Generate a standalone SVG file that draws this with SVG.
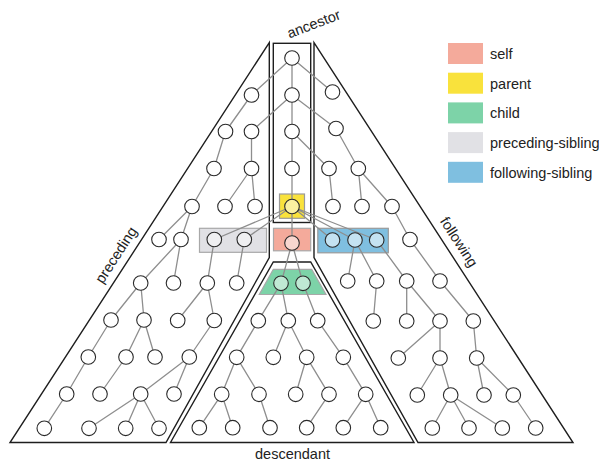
<svg xmlns="http://www.w3.org/2000/svg" width="599" height="465" viewBox="0 0 599 465">
<style>
.reg{fill:none;stroke:#1e1e1e;stroke-width:1.4;stroke-linejoin:miter}
.e{stroke:#8e8e8e;stroke-width:1.3;fill:none}
.n{fill:#fff;stroke:#2a2a2a;stroke-width:1.1}
.t{font-family:"Liberation Sans",Arial,sans-serif;font-size:14.5px;fill:#222}
</style>
<rect width="599" height="465" fill="#fff"/>
<g id="regions">
<path id="preceding-region" class="reg" d="M269.3,42.5 L269.3,257.5 L166,442.5 L10,442.5 Z"/>
<path id="following-region" class="reg" d="M314,42.5 L314,257.5 L418,442.5 L573,442.5 Z"/>
<rect id="ancestor-region" class="reg" x="273.3" y="43.3" width="37.4" height="179.2"/>
<path id="descendant-region" class="reg" d="M273.3,262 L310.7,262 L414,442.5 L170.5,442.5 Z"/>
</g>
<g id="boxes">
<rect id="parent-box" x="279.5" y="194" width="25" height="24.3" fill="#f9e23c" stroke="#9a9a9a" stroke-width="1.2"/>
<rect id="self-box" x="273.5" y="228.3" width="37.2" height="22.5" fill="#f4aa9b" stroke="#a8a8a8" stroke-width="1.2"/>
<rect id="psib-box" x="199.5" y="228.3" width="67" height="24" fill="#e1e1e5" stroke="#a8a8a8" stroke-width="1.2"/>
<rect id="fsib-box" x="317.8" y="228.3" width="70.5" height="24.5" fill="#7fbfe0" stroke="#9a9a9a" stroke-width="1.2"/>
<polygon id="child-box" points="273.3,269.3 311.7,269.3 326,294.5 259.3,294.5" fill="#7dd3a8" stroke="#a8a8a8" stroke-width="1.2"/>
</g>
<g id="connectors">
<path class="e" d="M292,58L292,95 M292,58L251.5,95 M292,58L332.5,92
M292,95L292,131.5 M292,95L251.5,131.5 M292,95L336,128.5
M251.5,95L225.5,131.5
M292,131.5L292,168.5 M292,131.5L329,168.5
M225.5,131.5L214,168.5 M251.5,131.5L251.5,168.5 M336,128.5L358.3,168.5
M292,168.5L292,206.5
M214,168.5L192,206.5
M251.5,168.5L225,206.5 M251.5,168.5L255,206.5
M329,168.5L333,206.5
M358.3,168.5L362,206.5 M358.3,168.5L392,206.5
M292,206.5L292,243 M292,206.5L214.3,239.5 M292,206.5L244.3,239.5 M292,206.5L332.5,240 M292,206.5L355,240 M292,206.5L376.7,240
M192,206.5L159,239.5 M192,206.5L181,239.5
M392,206.5L410,239.5
M181,239.5L140.7,283 M181,239.5L173.5,283
M214.3,239.5L207.3,283 M244.3,239.5L236.7,283
M292,243L281,283.3 M292,243L303,283.3
M355,240L347.7,281 M355,240L376.7,281
M376.7,240L406.7,281
M410,239.5L440,281
M140.7,283L111,320 M140.7,283L144,320
M207.3,283L177.7,320.5 M207.3,283L214.3,320.5
M281,283.3L258.3,320.7 M281,283.3L288.3,320.7
M303,283.3L317.7,320.7
M376.7,281L373.3,321
M406.7,281L406.7,321 M406.7,281L440,321
M440,281L473.3,321
M111,320L88.3,357
M144,320L126,357 M144,320L155,357
M214.3,320.5L189.3,357
M258.3,320.7L236.7,357.3
M288.3,320.7L273.3,357.3 M288.3,320.7L306.7,357.3
M317.7,320.7L343.3,357.3
M440,321L398.3,358 M440,321L440,358
M473.3,321L476.7,358
M88.3,357L66.7,394
M126,357L100,394
M189.3,357L140.7,394 M189.3,357L174,394
M236.7,357.3L221.7,394.3 M236.7,357.3L259,394.3
M306.7,357.3L295.7,394.3 M306.7,357.3L329,394.3
M343.3,357.3L365.7,394.3
M440,358L417.3,395 M440,358L450.7,395
M476.7,358L484,395 M476.7,358L513.3,395
M66.7,394L44.3,428.3
M140.7,394L89,428.3 M140.7,394L125.7,428.3 M140.7,394L159,428.3
M221.7,394.3L199.3,427.7 M221.7,394.3L232.7,427.7
M259,394.3L270,427.7
M329,394.3L306.7,427.7
M365.7,394.3L343.3,427.7 M365.7,394.3L380.7,427.7
M450.7,395L432.3,428 M450.7,395L469,428 M450.7,395L502.3,428
M513.3,395L535.7,428"/>
</g>
<g id="nodes">
<g id="ancestor-nodes">
<circle class="n" cx="292" cy="58" r="7.3"/>
<circle class="n" cx="292" cy="95" r="7.3"/>
<circle class="n" cx="292" cy="131.5" r="7.3"/>
<circle class="n" cx="292" cy="168.5" r="7.3"/>
</g>
<g id="parent-node"><circle cx="292" cy="206.5" r="7.3" fill="#faf1a0" stroke="#2a2a2a" stroke-width="1.1"/></g>
<g id="self-node"><circle cx="292" cy="243" r="7.3" fill="#f8d6cf" stroke="#2a2a2a" stroke-width="1.1"/></g>
<g id="preceding-sibling-nodes">
<circle cx="214.3" cy="239.5" r="7.3" fill="#efeff1" stroke="#2a2a2a" stroke-width="1.1"/>
<circle cx="244.3" cy="239.5" r="7.3" fill="#efeff1" stroke="#2a2a2a" stroke-width="1.1"/>
</g>
<g id="following-sibling-nodes">
<circle cx="332.5" cy="240" r="7.3" fill="#c4e2f1" stroke="#2a2a2a" stroke-width="1.1"/>
<circle cx="355" cy="240" r="7.3" fill="#c4e2f1" stroke="#2a2a2a" stroke-width="1.1"/>
<circle cx="376.7" cy="240" r="7.3" fill="#c4e2f1" stroke="#2a2a2a" stroke-width="1.1"/>
</g>
<g id="child-nodes">
<circle cx="281" cy="283.3" r="7.3" fill="#bfe9d4" stroke="#2a2a2a" stroke-width="1.1"/>
<circle cx="303" cy="283.3" r="7.3" fill="#bfe9d4" stroke="#2a2a2a" stroke-width="1.1"/>
</g>
<g id="preceding-nodes">
<circle class="n" cx="251.5" cy="95" r="7.3"/>
<circle class="n" cx="225.5" cy="131.5" r="7.3"/>
<circle class="n" cx="251.5" cy="131.5" r="7.3"/>
<circle class="n" cx="214" cy="168.5" r="7.3"/>
<circle class="n" cx="251.5" cy="168.5" r="7.3"/>
<circle class="n" cx="192" cy="206.5" r="7.3"/>
<circle class="n" cx="225" cy="206.5" r="7.3"/>
<circle class="n" cx="255" cy="206.5" r="7.3"/>
<circle class="n" cx="159" cy="239.5" r="7.3"/>
<circle class="n" cx="181" cy="239.5" r="7.3"/>
<circle class="n" cx="140.7" cy="283" r="7.3"/>
<circle class="n" cx="173.5" cy="283" r="7.3"/>
<circle class="n" cx="207.3" cy="283" r="7.3"/>
<circle class="n" cx="236.7" cy="283" r="7.3"/>
<circle class="n" cx="111" cy="320" r="7.3"/>
<circle class="n" cx="144" cy="320" r="7.3"/>
<circle class="n" cx="177.7" cy="320.5" r="7.3"/>
<circle class="n" cx="214.3" cy="320.5" r="7.3"/>
<circle class="n" cx="88.3" cy="357" r="7.3"/>
<circle class="n" cx="126" cy="357" r="7.3"/>
<circle class="n" cx="155" cy="357" r="7.3"/>
<circle class="n" cx="189.3" cy="357" r="7.3"/>
<circle class="n" cx="66.7" cy="394" r="7.3"/>
<circle class="n" cx="100" cy="394" r="7.3"/>
<circle class="n" cx="140.7" cy="394" r="7.3"/>
<circle class="n" cx="174" cy="394" r="7.3"/>
<circle class="n" cx="44.3" cy="428.3" r="7.3"/>
<circle class="n" cx="89" cy="428.3" r="7.3"/>
<circle class="n" cx="125.7" cy="428.3" r="7.3"/>
<circle class="n" cx="159" cy="428.3" r="7.3"/>
</g>
<g id="following-nodes">
<circle class="n" cx="332.5" cy="92" r="7.3"/>
<circle class="n" cx="336" cy="128.5" r="7.3"/>
<circle class="n" cx="329" cy="168.5" r="7.3"/>
<circle class="n" cx="358.3" cy="168.5" r="7.3"/>
<circle class="n" cx="333" cy="206.5" r="7.3"/>
<circle class="n" cx="362" cy="206.5" r="7.3"/>
<circle class="n" cx="392" cy="206.5" r="7.3"/>
<circle class="n" cx="410" cy="239.5" r="7.3"/>
<circle class="n" cx="347.7" cy="281" r="7.3"/>
<circle class="n" cx="376.7" cy="281" r="7.3"/>
<circle class="n" cx="406.7" cy="281" r="7.3"/>
<circle class="n" cx="440" cy="281" r="7.3"/>
<circle class="n" cx="373.3" cy="321" r="7.3"/>
<circle class="n" cx="406.7" cy="321" r="7.3"/>
<circle class="n" cx="440" cy="321" r="7.3"/>
<circle class="n" cx="473.3" cy="321" r="7.3"/>
<circle class="n" cx="398.3" cy="358" r="7.3"/>
<circle class="n" cx="440" cy="358" r="7.3"/>
<circle class="n" cx="476.7" cy="358" r="7.3"/>
<circle class="n" cx="417.3" cy="395" r="7.3"/>
<circle class="n" cx="450.7" cy="395" r="7.3"/>
<circle class="n" cx="484" cy="395" r="7.3"/>
<circle class="n" cx="513.3" cy="395" r="7.3"/>
<circle class="n" cx="432.3" cy="428" r="7.3"/>
<circle class="n" cx="469" cy="428" r="7.3"/>
<circle class="n" cx="502.3" cy="428" r="7.3"/>
<circle class="n" cx="535.7" cy="428" r="7.3"/>
</g>
<g id="descendant-nodes">
<circle class="n" cx="258.3" cy="320.7" r="7.3"/>
<circle class="n" cx="288.3" cy="320.7" r="7.3"/>
<circle class="n" cx="317.7" cy="320.7" r="7.3"/>
<circle class="n" cx="236.7" cy="357.3" r="7.3"/>
<circle class="n" cx="273.3" cy="357.3" r="7.3"/>
<circle class="n" cx="306.7" cy="357.3" r="7.3"/>
<circle class="n" cx="343.3" cy="357.3" r="7.3"/>
<circle class="n" cx="221.7" cy="394.3" r="7.3"/>
<circle class="n" cx="259" cy="394.3" r="7.3"/>
<circle class="n" cx="295.7" cy="394.3" r="7.3"/>
<circle class="n" cx="329" cy="394.3" r="7.3"/>
<circle class="n" cx="365.7" cy="394.3" r="7.3"/>
<circle class="n" cx="199.3" cy="427.7" r="7.3"/>
<circle class="n" cx="232.7" cy="427.7" r="7.3"/>
<circle class="n" cx="270" cy="427.7" r="7.3"/>
<circle class="n" cx="306.7" cy="427.7" r="7.3"/>
<circle class="n" cx="343.3" cy="427.7" r="7.3"/>
<circle class="n" cx="380.7" cy="427.7" r="7.3"/>
</g>
</g>
<g id="labels">
<text class="t" text-anchor="middle" transform="translate(315.5,28.5) rotate(-21)">ancestor</text>
<text class="t" text-anchor="middle" transform="translate(120.2,257.7) rotate(-57)">preceding</text>
<text class="t" text-anchor="middle" transform="translate(454.8,244.7) rotate(57)">following</text>
<text class="t" text-anchor="middle" x="292.5" y="459">descendant</text>
</g>
<g id="legend">
<rect x="448" y="43" width="35" height="21" fill="#f4aa9b"/>
<text class="t" x="490" y="58.8">self</text>
<rect x="448" y="72.7" width="35" height="21" fill="#f9e23c"/>
<text class="t" x="490" y="88.5">parent</text>
<rect x="448" y="102.4" width="35" height="21" fill="#7dd3a8"/>
<text class="t" x="490" y="118.2">child</text>
<rect x="448" y="132.1" width="35" height="21" fill="#e1e1e5"/>
<text class="t" x="490" y="147.9">preceding-sibling</text>
<rect x="448" y="161.8" width="35" height="21" fill="#7fbfe0"/>
<text class="t" x="490" y="177.6">following-sibling</text>
</g>
</svg>
